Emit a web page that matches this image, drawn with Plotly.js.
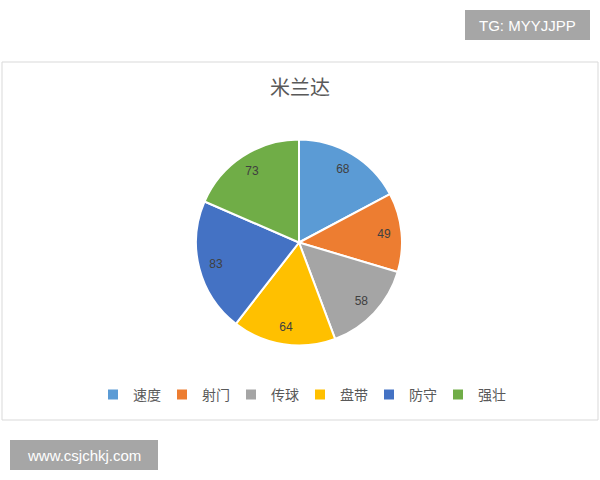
<!DOCTYPE html>
<html>
<head>
<meta charset="utf-8">
<script src="https://cdn.plot.ly/plotly-3.0.1.min.js"></script>
<style>
  html, body { margin: 0; padding: 0; background: #fff; }
  #chart { width: 600px; height: 480px; }
</style>
</head>
<body>
<div id="chart"></div>
<script>
// slices, clockwise from 12 o'clock
const skills = ['速度', '射门', '传球', '盘带', '防守', '强壮'];
const scores = [68, 49, 58, 64, 83, 73];
const colors = ['#5B9BD5', '#ED7D31', '#A5A5A5', '#FFC000', '#4472C4', '#70AD47'];

const W = 600, H = 480;
const px = x => x / W;
const py = y => 1 - y / H;
const pieDomain = { x: [px(196), px(402)], y: [py(346), py(139)] };

const data = [
    // the coloured slices
    {
        type: 'pie',
        labels: skills,
        values: scores,
        sort: false,
        direction: 'clockwise',
        rotation: 0,
        marker: { colors: colors, line: { color: '#ffffff', width: 2 } },
        textinfo: 'none',
        hoverinfo: 'label+value',
        domain: pieDomain
    },
    // transparent ring on top, only to push the value labels outwards like excel does
    {
        type: 'pie',
        labels: skills,
        values: scores,
        sort: false,
        direction: 'clockwise',
        rotation: 0,
        hole: 0.66,
        showlegend: false,
        marker: { colors: skills.map(() => 'rgba(0,0,0,0)'), line: { width: 0 } },
        textinfo: 'value',
        textposition: 'inside',
        insidetextorientation: 'horizontal',
        textfont: { color: '#404040', size: 12, family: 'Liberation Sans, Arial, sans-serif' },
        hoverinfo: 'skip',
        domain: pieDomain
    }
];

const layout = {
    width: W,
    height: H,
    margin: { l: 0, r: 0, t: 0, b: 0 },
    paper_bgcolor: '#ffffff',
    font: { family: 'Noto Sans CJK SC, sans-serif', color: '#595959' },
    title: {
        text: '米兰达',
        font: { size: 20, color: '#595959', family: 'Noto Sans CJK SC, sans-serif' },
        x: 0.5, xanchor: 'center',
        y: py(88), yanchor: 'middle'
    },
    showlegend: true,
    legend: {
        orientation: 'h',
        x: 0.5, xanchor: 'center',
        y: py(395), yanchor: 'middle',
        font: { size: 14, color: '#595959', family: 'Noto Sans CJK SC, sans-serif' },
        itemwidth: 30,
        entrywidth: 24,
        traceorder: 'normal'
    },
    shapes: [
        // chart area frame
        { type: 'rect', xref: 'paper', yref: 'paper', layer: 'below',
          x0: px(2), x1: px(598), y0: py(420), y1: py(62),
          line: { color: '#d9d9d9', width: 1 }, fillcolor: 'rgba(0,0,0,0)' },
        // watermark boxes
        { type: 'rect', xref: 'paper', yref: 'paper',
          x0: px(465), x1: px(590), y0: py(40), y1: py(10),
          line: { width: 0 }, fillcolor: '#a6a6a6' },
        { type: 'rect', xref: 'paper', yref: 'paper',
          x0: px(10), x1: px(158), y0: py(470), y1: py(440),
          line: { width: 0 }, fillcolor: '#a6a6a6' }
    ],
    annotations: [
        { text: 'TG: MYYJJPP', xref: 'paper', yref: 'paper',
          x: px(527), y: py(25), xanchor: 'center', yanchor: 'middle', showarrow: false,
          font: { size: 15, color: '#ffffff', family: 'Liberation Sans, Arial, sans-serif' } },
        { text: 'www.csjchkj.com', xref: 'paper', yref: 'paper',
          x: px(84), y: py(455), xanchor: 'center', yanchor: 'middle', showarrow: false,
          font: { size: 15, color: '#ffffff', family: 'Liberation Sans, Arial, sans-serif' } }
    ]
};

Plotly.newPlot('chart', data, layout, { displayModeBar: false, staticPlot: true });
</script>
</body>
</html>
